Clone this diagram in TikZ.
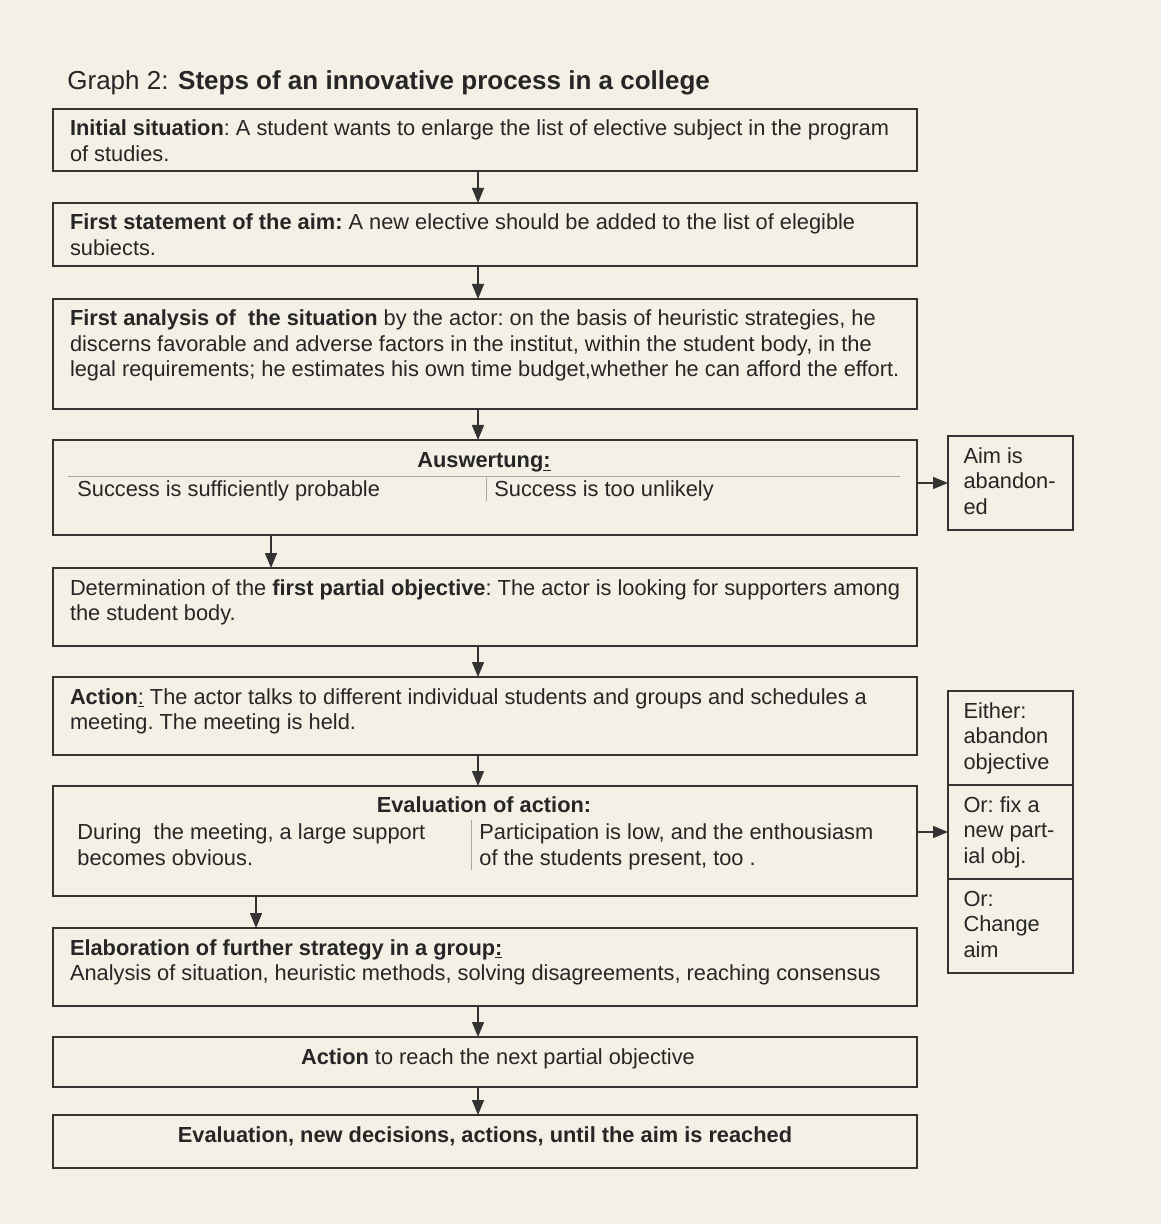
\documentclass[tikz,border=0pt]{standalone}
\usepackage{fontspec}
\setmainfont{Liberation Sans}
\usetikzlibrary{arrows.meta}

\definecolor{paper}{HTML}{F4F0E5}
\definecolor{ink}{HTML}{262626}
\definecolor{boxline}{HTML}{333333}
\newcommand\bodysize{\fontsize{10.9}{12.75}\selectfont\frenchspacing}
\newcommand\natspace{\spaceskip=0pt\xspaceskip=0pt\relax}
\newcommand\steplines[1]{\natspace\begin{tabular}[t]{@{}l@{}}#1\end{tabular}}

\tikzset{
  stepbox/.style={draw=boxline, line width=0.7pt, anchor=north west, outer sep=0pt,
    minimum width=432pt, text width=415pt, inner xsep=8.5pt, inner ysep=5.5pt,
    text height=8pt, align=left, text=ink, font=\bodysize},
  sidebox/.style={stepbox, minimum width=62.5pt, text width=47pt, inner xsep=7.75pt,
    text depth=28pt},
  coltext/.style={inner sep=0pt, anchor=north west, text height=8pt, align=left,
    text=ink, font=\bodysize},
  flow/.style={draw=boxline, line width=0.7pt, -{Triangle[length=7.5pt,width=6pt]}},
  divider/.style={draw=gray!70, line width=0.5pt}
}

\begin{document}
\begin{tikzpicture}[x=0.5pt, y=-0.5pt]
   % Paper
   \fill[paper] (0,0) rectangle (1161,1224);

   % Title
   \node[anchor=base west, inner sep=0pt, text=ink, font=\fontsize{13}{15}\selectfont] (title) at (67,90)
      {Graph 2: \textbf{Steps of an innovative process in a college}};

   % Main steps
   \node[stepbox, text depth=12pt] (b1) at (53,109)
      {\steplines{\textbf{Initial situation}: A student wants to enlarge the list of elective subject in the program\\of studies.}};
   \node[stepbox, text depth=12.5pt] (b2) at (53,203)
      {\steplines{\textbf{First statement of the aim:} A new elective should be added to the list of elegible\\subiects.}};
   \node[stepbox, text depth=36pt] (b3) at (53,299)
      {\steplines{\textbf{First analysis of\ \ the situation} by the actor: on the basis of heuristic strategies, he\\discerns favorable and adverse factors in the institut, within the student body, in the\\legal requirements; he estimates his own time budget,whether he can afford the effort.}};
   \node[stepbox, text depth=28.5pt] (b4) at (53,440) {};
   \node[stepbox, text depth=20pt] (b5) at (53,568)
      {\steplines{Determination of the \textbf{first partial objective}: The actor is looking for supporters among\\the student body.}};
   \node[stepbox, text depth=20pt] (b6) at (53,677)
      {\steplines{\textbf{Action}\underline{:} The actor talks to different individual students and groups and schedules a\\meeting. The meeting is held.}};
   \node[stepbox, text depth=36pt] (b7) at (53,786) {};
   \node[stepbox, text depth=20pt] (b8) at (53,928)
      {\steplines{\textbf{Elaboration of further strategy in a group\underline{:}}\\Analysis of situation, heuristic methods, solving disagreements, reaching consensus}};
   \node[stepbox, text depth=6pt, align=center] (b9) at (53,1037)
      {\hspace*{13pt}\steplines{\textbf{Action} to reach the next partial objective}};
   \node[stepbox, text depth=7.5pt, align=center] (b10) at (53,1115)
      {\steplines{\textbf{Evaluation, new decisions, actions, until the aim is reached}}};

   % Auswertung
   \node[coltext, anchor=north] (aus) at (484,451.5) {\textbf{Auswertung\underline{:}}};
   \node[coltext] (aus-yes) at (77,480) {Success is sufficiently probable};
   \node[coltext] (aus-no) at (494,480) {Success is too unlikely};
   \draw[divider] (68,476) -- (900,476);
   \draw[divider] (486,478) -- (486,501);

   % Evaluation of action
   \node[coltext, anchor=north] (eval) at (484,796.5) {\textbf{Evaluation of action:}};
   \node[coltext] (eval-yes) at (77,823.5)
      {\steplines{During\ \ the meeting, a large support\\becomes obvious.}};
   \node[coltext] (eval-no) at (479,823.5)
      {\steplines{Participation is low, and the enthousiasm\\of the students present, too .}};
   \draw[divider] (471,820) -- (471,870);

   % Side boxes
   \node[sidebox] (aim) at (948,436) {\steplines{Aim is\\abandon-\\ed}};
   \node[sidebox] (either) at (948,691) {\steplines{Either:\\abandon\\objective}};
   \node[sidebox] (fix) at (948,785) {\steplines{Or: fix a\\new part-\\ial obj.}};
   \node[sidebox] (change) at (948,879) {\steplines{Or:\\Change\\aim}};

   % Arrows
   \draw[flow] ([xshift=212.5pt]b1.south west) -- ([xshift=212.5pt]b2.north west);  % situation -> aim
   \draw[flow] ([xshift=212.5pt]b2.south west) -- ([xshift=212.5pt]b3.north west);  % aim -> analysis
   \draw[flow] ([xshift=212.5pt]b3.south west) -- ([xshift=212.5pt]b4.north west);  % analysis -> Auswertung
   \draw[flow] ([xshift=109pt]b4.south west) -- ([xshift=109pt]b5.north west);      % probable
   \draw[flow] (aim.west -| b4.east) -- (aim.west);                                  % unlikely
   \draw[flow] ([xshift=212.5pt]b5.south west) -- ([xshift=212.5pt]b6.north west);  % objective -> action
   \draw[flow] ([xshift=212.5pt]b6.south west) -- ([xshift=212.5pt]b7.north west);  % action -> evaluation
   \draw[flow] (fix.west -| b7.east) -- (fix.west);                                  % low
   \draw[flow] ([xshift=101.5pt]b7.south west) -- ([xshift=101.5pt]b8.north west);  % support
   \draw[flow] ([xshift=212.5pt]b8.south west) -- ([xshift=212.5pt]b9.north west);  % strategy -> action
   \draw[flow] ([xshift=212.5pt]b9.south west) -- ([xshift=212.5pt]b10.north west); % action -> evaluation
\end{tikzpicture}
\end{document}
